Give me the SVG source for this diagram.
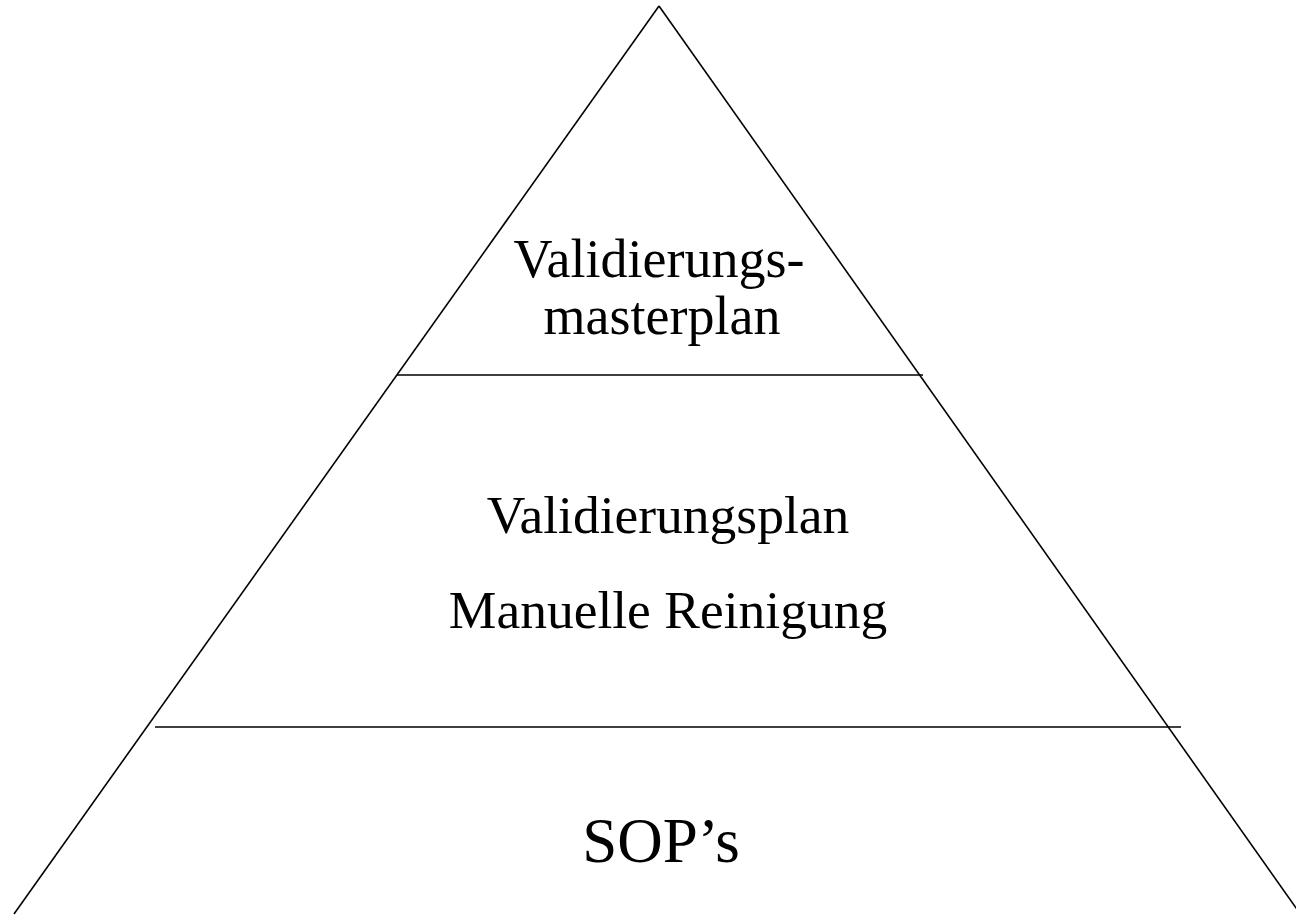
<svg xmlns="http://www.w3.org/2000/svg" width="1296" height="915" viewBox="0 0 1296 915">
<style>
.ln{stroke:#000;stroke-width:1.6;fill:none}
.t{font-family:"Liberation Serif","Times New Roman",serif;fill:#000;text-anchor:middle}
</style>
<rect width="1296" height="915" fill="#fff"/>
<g id="pyramid">
<line class="ln" x1="659" y1="6" x2="14" y2="914"/>
<line class="ln" x1="659" y1="6" x2="1301" y2="915"/>
<line class="ln" x1="397" y1="375" x2="923" y2="375"/>
<line class="ln" x1="155" y1="727" x2="1181" y2="727"/>
</g>
<g id="top">
<text class="t" x="659" y="277" font-size="54">Validierungs-</text>
<text class="t" x="662" y="334" font-size="54">masterplan</text>
</g>
<g id="middle">
<text class="t" x="668" y="533" font-size="53.5">Validierungsplan</text>
<text class="t" x="668" y="628" font-size="53.5">Manuelle Reinigung</text>
</g>
<g id="bottom">
<text class="t" x="661" y="862" font-size="63">SOP’s</text>
</g>
</svg>
